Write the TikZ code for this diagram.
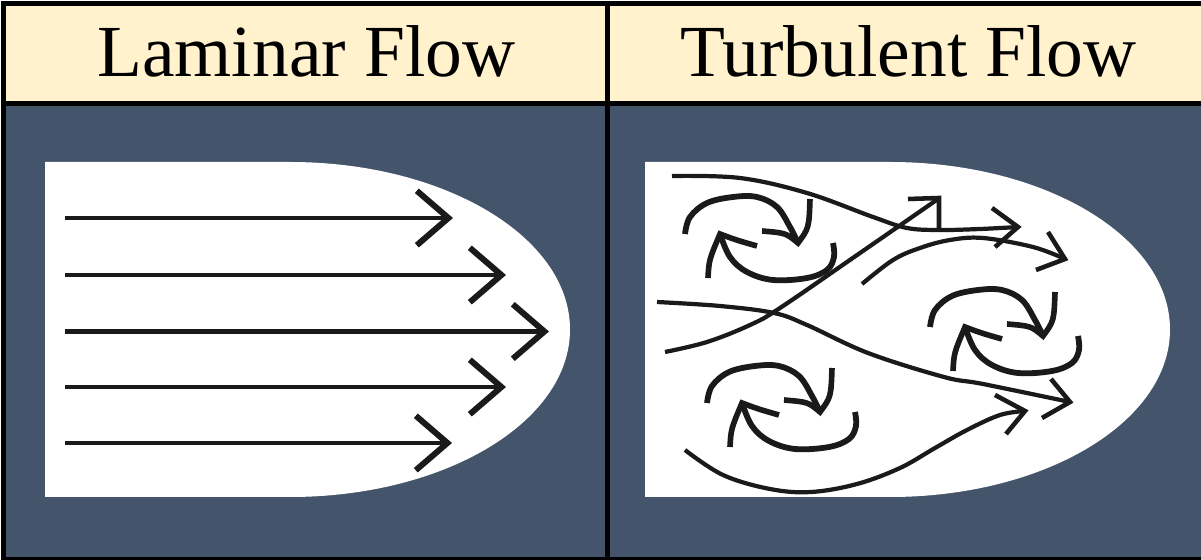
\documentclass[tikz,border=0pt]{standalone}
\usepackage{fontspec}
\newfontfamily\headserif{Liberation Serif}
\usetikzlibrary{arrows.meta}
\definecolor{headcream}{HTML}{FFF2CC}
\definecolor{slate}{HTML}{44546A}
\definecolor{ink}{HTML}{1A1A1A}
\begin{document}
\begin{tikzpicture}[x=0.02cm,y=-0.02cm,
  frame/.style={line width=2.85pt, black},
  title/.style={anchor=base west, inner sep=0pt,
    font=\headserif\fontsize{41.8pt}{50pt}\selectfont},
  lamline/.style={ink, line width=2.6pt,
    -{Straight Barb[length=18pt,width=31pt,line width=3.4pt]}},
  stream/.style={ink, line width=2.4pt},
  barb/.style={ink, line width=2.6pt, line join=miter, miter limit=10},
  swirl/.style={ink, line width=3.3pt},
  swirlhead/.style={ink, line width=3.2pt, line join=miter, miter limit=10},
  vortex/.pic={
    % upper half-turn, heading clockwise
    \draw[swirl] plot[smooth, tension=0.6] coordinates
      {(-75,-6) (-70,-23) (-53,-37) (-27,-43) (-3,-43) (17,-33) (30,-13) (38,3)};
    \draw[swirlhead] (50,-41) .. controls (49,-12) .. (38,3)
      .. controls (26,-7) .. (2,-9);
    % lower half-turn, heading back to the left
    \draw[swirl] plot[smooth, tension=0.6] coordinates
      {(73,3) (74,17) (67,30) (47,38) (13,40) (-13,32) (-30,17) (-40,-6)};
    \draw[swirlhead] (-52,38) .. controls (-51,20) .. (-40,-6)
      .. controls (-24,0) .. (-3,6);
  }
]
\useasboundingbox (0,0) rectangle (1201,560);

% cells
\fill[headcream] (3.5,3.5) rectangle (1201,103.5);
\fill[slate] (3.5,103.5) rectangle (1201,560);

% white flow channels
\fill[white] (45,162) -- (290,162)
  arc[start angle=-90, end angle=90, x radius=280, y radius=167.5]
  -- (45,497) -- cycle;
\fill[white] (645,162) -- (890,162)
  arc[start angle=-90, end angle=90, x radius=280, y radius=167.5]
  -- (645,497) -- cycle;

% table rules
\draw[frame] (1,3.5) -- (1201,3.5);
\draw[frame] (3.5,1) -- (3.5,560);
\draw[frame] (1,103.5) -- (1201,103.5);
\draw[frame] (607.5,1) -- (607.5,560);
\draw[frame] (1,560) -- (1201,560);

% headings
\node[title] (lamTitle) at (97,77) {Laminar Flow};
\node[title] (turbTitle) at (680,77) {Turbulent Flow};

% laminar streamlines
\draw[lamline] (65,218) -- (453,218);
\draw[lamline] (65,275) -- (506,275);
\draw[lamline] (65,331.5) -- (549,331.5);
\draw[lamline] (65,387) -- (506,387);
\draw[lamline] (65,443) -- (452,443);

% turbulent streamlines
\draw[stream] plot[smooth, tension=0.6] coordinates
  {(672,176) (740,178) (807,193) (873,217) (907,228) (940,230) (980,229) (1018,227)};
\draw[barb] (992,208) -- (1018,227) -- (995,247);

\draw[stream] plot[smooth, tension=0.6] coordinates
  {(665,352) (707,342) (750,325) (780,308) (860,253) (938,199)};
\draw[barb] (908,199) -- (939,198) -- (939,229);

\draw[stream] plot[smooth, tension=0.6] coordinates
  {(862,284) (893,260) (920,248) (950,240) (983,238) (1033,247) (1065,259)};
\draw[barb] (1048,232) -- (1065,259) -- (1036,270);

\draw[stream] plot[smooth, tension=0.6] coordinates
  {(657,302) (720,306) (774,313) (807,325) (868,353) (944,377) (983,384) (1070,402)};
\draw[barb] (1051,379) -- (1070,402) -- (1042,418);

\draw[stream] plot[smooth, tension=0.6] coordinates
  {(685,450) (723,475) (770,489) (811,492) (857,484) (900,468) (935,448) (967,430) (1000,415) (1025,411)};
\draw[barb] (995,395) -- (1025,411) -- (1006,434);

% eddies
\pic (eddyA) at (760,240) {vortex};
\pic (eddyB) at (782,409) {vortex};
\pic (eddyC) at (1005,333) {vortex};
\end{tikzpicture}
\end{document}
